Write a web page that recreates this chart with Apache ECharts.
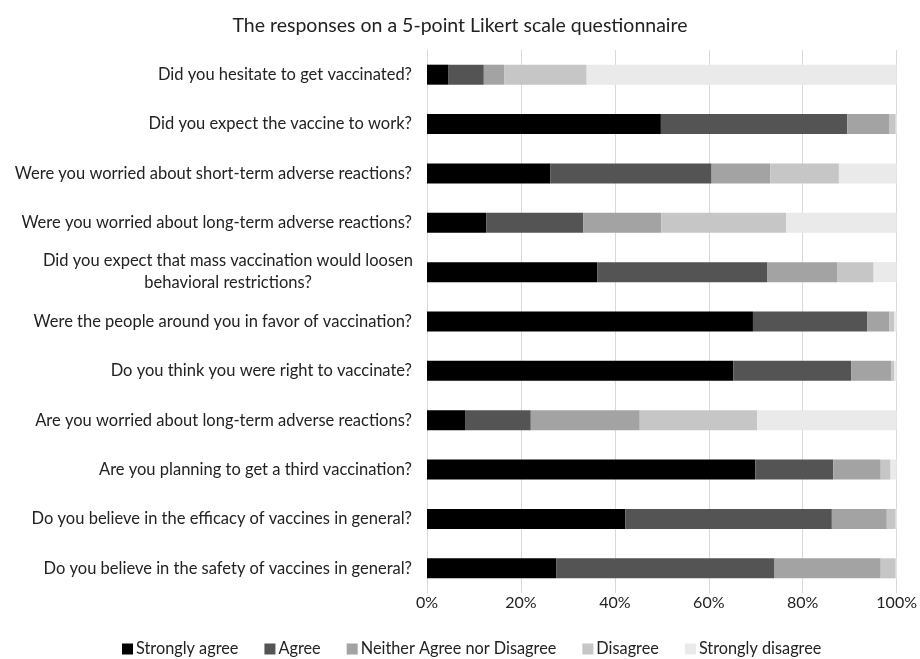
<!DOCTYPE html>
<html>
<head>
<meta charset="utf-8">
<script src="https://cdn.jsdelivr.net/npm/echarts@6/dist/echarts.min.js"></script>
<style>
html,body{margin:0;padding:0;background:#fff;}
#chart{width:920px;height:659px;}
</style>
</head>
<body>
<div id="chart"></div>
<script>
var questions = [
	'Did you hesitate to get vaccinated?',
	'Did you expect the vaccine to work?',
	'Were you worried about short-term adverse reactions?',
	'Were you worried about long-term adverse reactions?',
	'Did you expect that mass vaccination would loosen\nbehavioral restrictions?',
	'Were the people around you in favor of vaccination?',
	'Do you think you were right to vaccinate?',
	'Are you worried about long-term adverse reactions?',
	'Are you planning to get a third vaccination?',
	'Do you believe in the efficacy of vaccines in general?',
	'Do you believe in the safety of vaccines in general?'
];
var levels = ['Strongly agree', 'Agree', 'Neither Agree nor Disagree', 'Disagree', 'Strongly disagree'];
var stronglyAgree = [4.6, 49.8, 26.3, 12.6, 36.3, 69.4, 65.2, 8.1, 69.9, 42.2, 27.5];
var agree = [7.5, 39.7, 34.3, 20.7, 36.1, 24.3, 25.1, 14.0, 16.6, 44.0, 46.5];
var neither = [4.4, 9.0, 12.5, 16.6, 14.9, 4.7, 8.6, 23.2, 10.1, 11.7, 22.6];
var disagree = [17.5, 1.3, 14.6, 26.6, 7.8, 1.1, 0.6, 25.0, 2.1, 1.9, 3.2];
var stronglyDisagree = [66.0, 0.2, 12.3, 23.5, 4.9, 0.5, 0.5, 29.7, 1.3, 0.2, 0.2];
var colors = ['#000000', '#545454', '#a3a3a3', '#c6c6c6', '#eaeaea'];

var font = 'Lato, "Open Sans", sans-serif';
var data = [stronglyAgree, agree, neither, disagree, stronglyDisagree];
var series = [];
for (var i = 0; i < levels.length; i++) {
	series.push({
		name: levels[i],
		type: 'bar',
		stack: 'total',
		barWidth: 20,
		data: data[i],
		itemStyle: {color: colors[i]}
	});
}

var myChar = echarts.init(document.getElementById('chart'));
myChar.setOption({
	animation: false,
	textStyle: {fontFamily: font},
	title: {
		text: 'The responses on a 5-point Likert scale questionnaire',
		left: 'center',
		top: 11,
		textStyle: {fontFamily: font, fontSize: 19.5, fontWeight: 'normal', color: '#222'}
	},
	grid: {left: 427, right: 20, top: 50, bottom: 66, containLabel: false},
	xAxis: {
		type: 'value',
		min: 0,
		max: 100,
		interval: 20,
		axisLine: {show: false},
		axisTick: {show: false},
		splitLine: {lineStyle: {color: '#d9d9d9', width: 1}},
		axisLabel: {
			formatter: '{value}%',
			fontFamily: font, fontSize: 16, color: '#222', margin: 2
		}
	},
	yAxis: {
		type: 'category',
		inverse: true,
		data: questions,
		axisLine: {lineStyle: {color: '#d9d9d9'}},
		axisTick: {show: false},
		axisLabel: {
			fontFamily: font, fontSize: 16.5, color: '#222', margin: 15,
			lineHeight: 22,
			formatter: function(value) {
				if (value.indexOf('\n') >= 0) {
					return value.split('\n').map(function(s) { return '{c|' + s + '}'; }).join('\n');
				}
				return value;
			},
			rich: {
				c: {width: 368, align: 'center', fontFamily: font, fontSize: 16.5, color: '#222', lineHeight: 22}
			}
		}
	},
	legend: {
		bottom: 0,
		left: 117,
		padding: [2, 5, 2, 5],
		icon: 'rect',
		itemWidth: 11,
		itemHeight: 11,
		itemGap: 26,
		itemStyle: {borderWidth: 0},
		textStyle: {fontFamily: font, fontSize: 16.3, color: '#222', padding: [0, 0, 0, -2]},
		data: levels
	},
	color: colors,
	series: series
});
</script>
</body>
</html>
